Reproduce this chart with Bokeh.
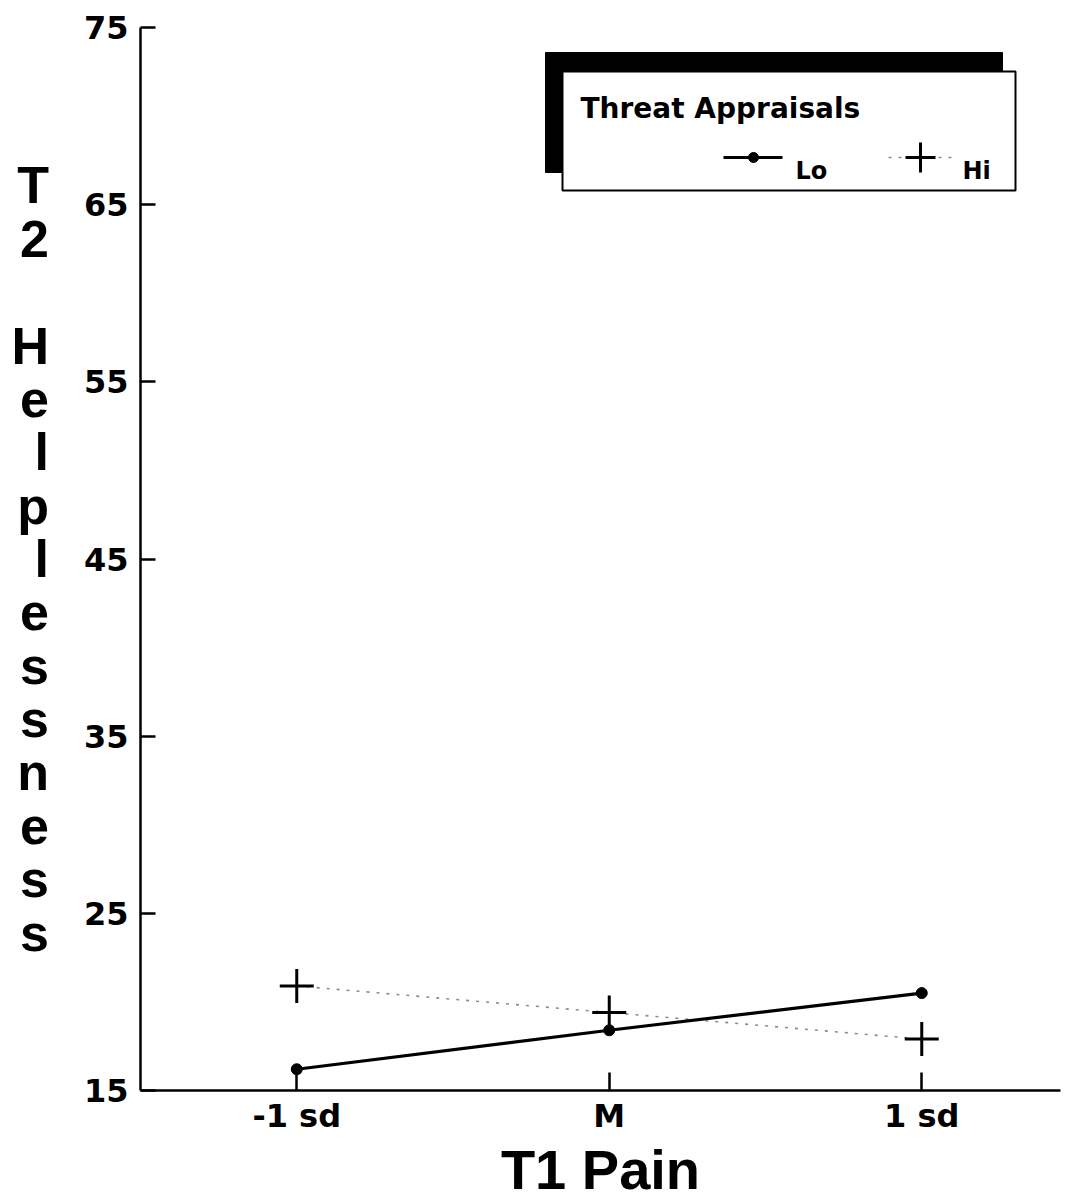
from bokeh.plotting import figure
from bokeh.models import FixedTicker, Range1d
from bokeh.core.properties import value
from bokeh.embed import file_html
from bokeh.resources import INLINE

# ---------------- data ----------------
categories = ["-1 sd", "M", "1 sd"]
x_pos = [1, 2, 3]
lo_values = [16.2, 18.4, 20.5]
hi_values = [20.9, 19.4, 17.9]
y_ticks = [15, 25, 35, 45, 55, 65, 75]
series_names = ["Lo", "Hi"]
legend_title = "Threat Appraisals"
x_title = "T1 Pain"
y_title_words = ["T2", "Helplessness"]

# ---------------- layout ----------------
W, H = 1068, 1204
FL, FR, FT, FB = 140, 1060, 27, 1090  # frame edges in pixels
X0, X1 = 0.5, 0.5 + (FR - FL) / 312.5
Y0, Y1 = 15, 75

def dx(px):
    return X0 + (px - FL) * (X1 - X0) / (FR - FL)

def dy(py):
    return Y1 - (py - FT) * (Y1 - Y0) / (FB - FT)

BOLD_ROUND = "DejaVu Sans"
HELV = "Liberation Sans"

p = figure(width=W, height=H, x_range=Range1d(X0, X1), y_range=Range1d(Y0, Y1),
           output_backend="svg", toolbar_location=None,
           min_border_left=FL, min_border_right=W - FR,
           min_border_top=FT, min_border_bottom=H - FB)
p.outline_line_color = None
p.xgrid.grid_line_color = None
p.ygrid.grid_line_color = None
p.background_fill_color = "white"
p.border_fill_color = "white"

# y axis
yax = p.yaxis[0]
yax.ticker = FixedTicker(ticks=y_ticks)
yax.minor_tick_line_color = None
yax.major_tick_in = 15
yax.major_tick_out = 0
yax.major_tick_line_width = 2.5
yax.axis_line_width = 2.5
yax.major_label_standoff = 12
yax.major_label_text_font = BOLD_ROUND
yax.major_label_text_font_style = "bold"
yax.major_label_text_font_size = "32px"
yax.major_label_text_color = "black"
# stacked, upright letters
stacked = "\n".join(list(y_title_words[0])) + "\n\n" + "\n".join(list(y_title_words[1]))
yax.axis_label = stacked
yax.axis_label_orientation = "horizontal"
yax.axis_label_text_font = HELV
yax.axis_label_text_font_style = "bold"
yax.axis_label_text_font_size = "52px"
yax.axis_label_text_line_height = 0.92
yax.axis_label_text_align = "center"
yax.axis_label_standoff = 32
yax.axis_label_text_color = "black"

# x axis
xax = p.xaxis[0]
xax.ticker = FixedTicker(ticks=x_pos)
xax.major_label_overrides = {x: c for x, c in zip(x_pos, categories)}
xax.minor_tick_line_color = None
xax.major_tick_in = 18
xax.major_tick_out = 0
xax.major_tick_line_width = 2.5
xax.axis_line_width = 2.5
xax.major_label_standoff = 6
xax.major_label_text_font = BOLD_ROUND
xax.major_label_text_font_style = "bold"
xax.major_label_text_font_size = "32px"
xax.major_label_text_color = "black"
xax.axis_label = x_title
xax.axis_label_text_font = HELV
xax.axis_label_text_font_style = "bold"
xax.axis_label_text_font_size = "56px"
xax.axis_label_standoff = 0
xax.axis_label_text_color = "black"

# series
p.line(x_pos, hi_values, line_color="#8c8c8c", line_width=1.6, line_dash="3 7")
p.line(x_pos, lo_values, line_color="black", line_width=3.2)
p.scatter(x_pos, lo_values, marker="circle", size=11, fill_color="black", line_color="black")
p.scatter(x_pos, hi_values, marker="cross", size=34, line_color="black", line_width=3)

# legend (drawn by hand: shadowed box)
p.quad(left=[dx(545)], right=[dx(1002)], top=[dy(52)], bottom=[dy(172)],
       fill_color="black", line_color="black")
p.quad(left=[dx(562)], right=[dx(1015)], top=[dy(71)], bottom=[dy(190)],
       fill_color="white", line_color="black", line_width=2)
p.text(x=[dx(580)], y=[dy(108)], text=[legend_title], text_font=value(BOLD_ROUND),
       text_font_style="bold", text_font_size="28px", text_baseline="alphabetic",
       text_align="left", text_color="black")
p.line([dx(723), dx(782)], [dy(157), dy(157)], line_color="black", line_width=3)
p.scatter([dx(753)], [dy(157)], marker="circle", size=10, fill_color="black", line_color="black")
p.text(x=[dx(795)], y=[dy(170)], text=[series_names[0]], text_font=value(BOLD_ROUND),
       text_font_style="bold", text_font_size="24px", text_baseline="alphabetic",
       text_align="left", text_color="black")
p.line([dx(888), dx(952)], [dy(157), dy(157)], line_color="#8c8c8c", line_width=1.6, line_dash="3 7")
p.scatter([dx(920)], [dy(157)], marker="cross", size=30, line_color="black", line_width=3)
p.text(x=[dx(962)], y=[dy(170)], text=[series_names[1]], text_font=value(BOLD_ROUND),
       text_font_style="bold", text_font_size="24px", text_baseline="alphabetic",
       text_align="left", text_color="black")

html = file_html(p, INLINE)
open("out.html", "w").write(html)
